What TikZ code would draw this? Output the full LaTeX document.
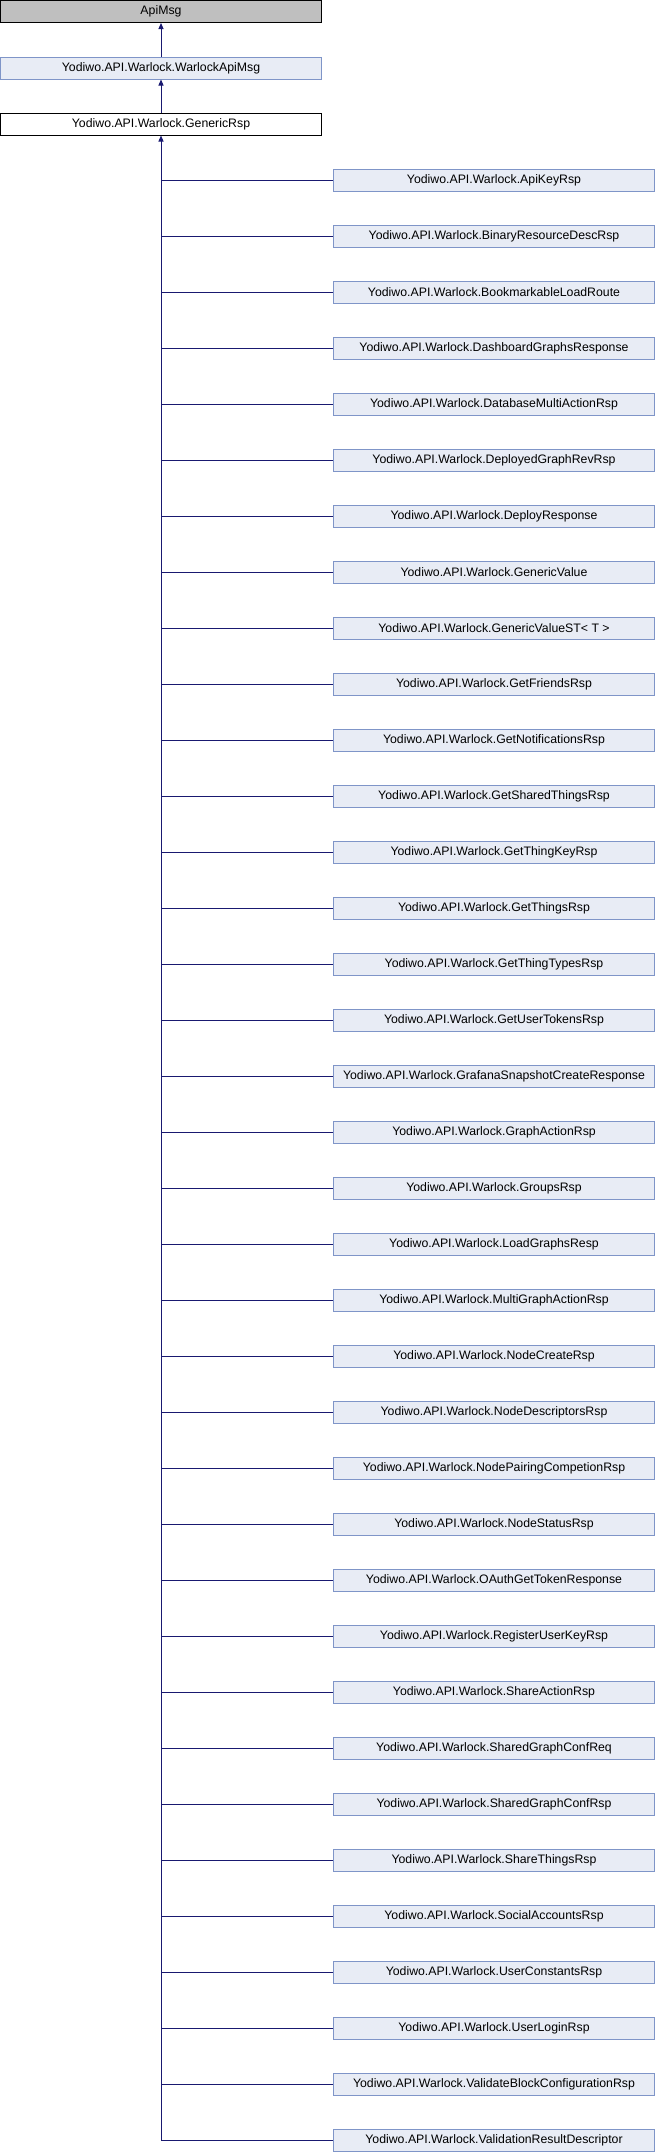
\documentclass[tikz,border=0pt]{standalone}
\usepackage{fontspec}
\setmainfont{Liberation Sans}
\usetikzlibrary{arrows.meta}
\definecolor{edgeblue}{HTML}{191970}
\definecolor{classfill}{HTML}{E8ECF5}
\definecolor{classline}{HTML}{7F95C8}
\tikzset{
  classbox/.style={draw,line width=1pt,minimum width=321pt,minimum height=22pt,inner sep=0pt,font=\fontsize{12.3}{14}\selectfont},
  linked/.style={classbox,draw=classline,fill=classfill},
  extern/.style={classbox,draw=black,fill=black!25},
  current/.style={classbox,draw=black,fill=white},
  inherit/.style={-{Triangle[length=6pt,width=5pt]},edgeblue,line width=1pt},
  branch/.style={edgeblue,line width=1pt}
}

\begin{document}
\begin{tikzpicture}[x=1pt,y=-1pt]
    \useasboundingbox (0,0) rectangle (656,2152);

    % base classes
    \node[extern] (apimsg) at (161,11.5) {ApiMsg};
    \node[linked] (warlockapimsg) at (161,68) {Yodiwo.API.Warlock.WarlockApiMsg};
    \node[current] (genericrsp) at (161,124) {Yodiwo.API.Warlock.GenericRsp};
    \draw[inherit] (warlockapimsg) -- (apimsg);
    \draw[inherit] (genericrsp) -- (warlockapimsg);

    % derived classes
    \foreach \cls [count=\i] in {ApiKeyRsp,BinaryResourceDescRsp,BookmarkableLoadRoute,
      DashboardGraphsResponse,DatabaseMultiActionRsp,DeployedGraphRevRsp,DeployResponse,
      GenericValue,GenericValueST< T >,GetFriendsRsp,GetNotificationsRsp,GetSharedThingsRsp,
      GetThingKeyRsp,GetThingsRsp,GetThingTypesRsp,GetUserTokensRsp,
      GrafanaSnapshotCreateResponse,GraphActionRsp,GroupsRsp,LoadGraphsResp,
      MultiGraphActionRsp,NodeCreateRsp,NodeDescriptorsRsp,NodePairingCompetionRsp,
      NodeStatusRsp,OAuthGetTokenResponse,RegisterUserKeyRsp,ShareActionRsp,
      SharedGraphConfReq,SharedGraphConfRsp,ShareThingsRsp,SocialAccountsRsp,
      UserConstantsRsp,UserLoginRsp,ValidateBlockConfigurationRsp,ValidationResultDescriptor} {
      \node[linked] (c\i) at (494,{124+56*\i}) {Yodiwo.API.Warlock.\cls};
      \draw[branch] (c\i.west) -- (c\i.west -| genericrsp.south);
    }

    % trunk
    \coordinate (trunkend) at (c36.west -| genericrsp.south);
    \draw[inherit] (trunkend) -- (genericrsp.south);
\end{tikzpicture}
\end{document}
